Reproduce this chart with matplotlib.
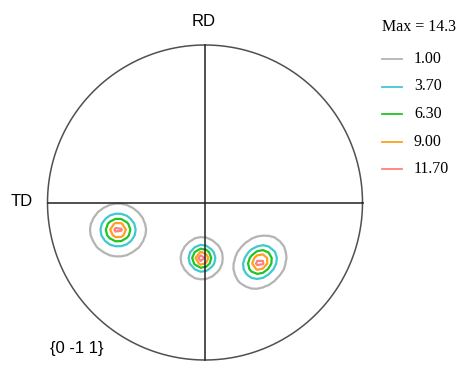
import numpy as np
import matplotlib.pyplot as plt
from matplotlib.lines import Line2D

# contour levels and their colours
levels = [1.00, 3.70, 6.30, 9.00, 11.70]
level_colors = ["#b4b4b4", "#40c8d0", "#22c422", "#ffa020", "#ff8080"]
max_value = 14.3

# pole positions on the projection (unit circle), heights and spreads
peak_x = [-0.552, -0.020, 0.349]
peak_y = [-0.175, -0.354, -0.378]
peak_height = [13.4, 14.3, 13.8]
peak_width = [0.090, 0.068, 0.087]
peak_stretch = [1.03, 1.0, 1.1]
peak_angle = [0.0, 0.0, 45.0]

plane_label = "{0 -1 1}"

W, H = 460, 365
fig = plt.figure(figsize=(W / 100, H / 100), dpi=100)
cx, cy, R = 205, 202.5, 157.5
ax = fig.add_axes([(cx - R) / W, (H - cy - R) / H, 2 * R / W, 2 * R / H])
ax.set_xlim(-1, 1)
ax.set_ylim(-1, 1)
ax.set_aspect("equal")
ax.axis("off")

# density on a coarse grid, like the binned pole figure output
g = np.arange(-1, 1.0001, 0.036)
X, Y = np.meshgrid(g, g)
Z = np.zeros_like(X)
for px, py, h, s, k, a in zip(peak_x, peak_y, peak_height, peak_width, peak_stretch, peak_angle):
    t = np.radians(a)
    u = (X - px) * np.cos(t) + (Y - py) * np.sin(t)
    v = -(X - px) * np.sin(t) + (Y - py) * np.cos(t)
    d = np.sqrt((u / (s * k)) ** 2 + (v / (s / k)) ** 2)
    Z = np.maximum(Z, h * np.exp(-d ** 1.5))
Z[X ** 2 + Y ** 2 > 1] = 0

ax.contour(X, Y, Z, levels=levels, colors=level_colors, linewidths=1.6)

th = np.linspace(0, 2 * np.pi, 400)
ax.plot(np.cos(th), np.sin(th), color="#505050", lw=1.1, clip_on=False)
ax.plot([-1, 1], [0, 0], color="#202020", lw=1.1, clip_on=False)
ax.plot([0, 0], [-1, 1], color="#202020", lw=1.1, clip_on=False)

sans = "Liberation Sans"
serif = "Liberation Serif"
fig.text(204 / W, 1 - 21 / H, "RD", family=sans, fontsize=12, ha="center", va="center")
fig.text(22 / W, 1 - 202 / H, "TD", family=sans, fontsize=12, ha="center", va="center")
fig.text(77 / W, 1 - 349 / H, plane_label, family=sans, fontsize=12, ha="center", va="center")

fig.text(382 / W, 1 - 27 / H, "Max = %.1f" % max_value, family=serif, fontsize=11.5, va="center")
for i, (lv, c) in enumerate(zip(levels, level_colors)):
    y = 1 - (59 + 27.5 * i) / H
    fig.add_artist(Line2D([382 / W, 402 / W], [y, y], color=c, lw=1.3, transform=fig.transFigure))
    fig.text(414 / W, y, "%.2f" % lv, family=serif, fontsize=11.5, va="center")

fig.savefig("out.png", dpi=100)
